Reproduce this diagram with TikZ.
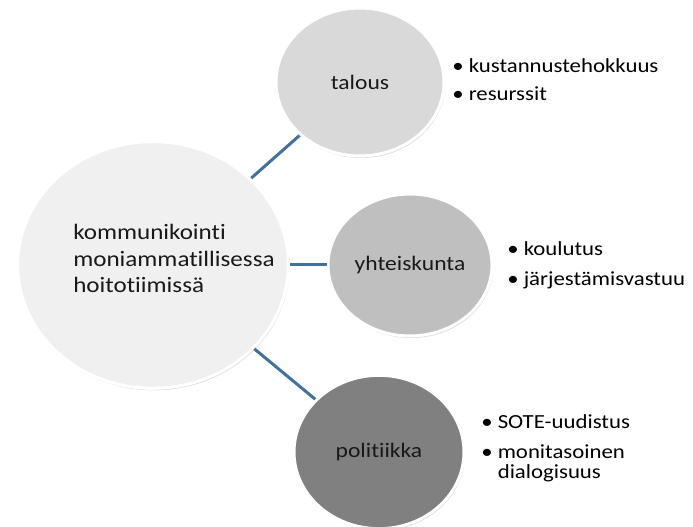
\documentclass[tikz,border=0pt]{standalone}
\usepackage{fontspec}
\setmainfont{Carlito}[FakeStretch=1.14, Ligatures=NoCommon]
\usetikzlibrary{shapes.geometric,shadows}

\definecolor{linkBlue}{RGB}{65,113,156}
\definecolor{textDark}{RGB}{25,25,25}

\tikzset{
	topicCircle/.style={ellipse, draw=white, line width=2.25pt, inner sep=0pt, text=textDark,
		font=\fontsize{15.5pt}{17pt}\selectfont,
		drop shadow={shadow xshift=0.8pt, shadow yshift=-1.5pt, opacity=0.3}},
	bulletText/.style={anchor=base west, align=left, inner sep=0pt, text=black,
		font=\fontsize{15pt}{15pt}\selectfont},
	linkLine/.style={draw=linkBlue, line width=2.25pt}
}

\begin{document}
\begin{tikzpicture}[x=0.75pt, y=-0.75pt]
	\useasboundingbox (0,0) rectangle (693,527);

	% central circle
	\node[topicCircle, fill=black!6, minimum width=203pt, minimum height=185pt](kommBox) at (153,265){};
	\node[anchor=base west, align=left, inner sep=0pt, text=textDark, font=\fontsize{16.5pt}{20pt}\selectfont](kommLabel) at (73,293){kommunikointi\\moniammatillisessa\\hoitotiimissä};

	% topic circles
	\node[topicCircle, fill=black!15, minimum width=126pt, minimum height=111pt](talousBox) at (360,82){talous};
	\node[topicCircle, fill=black!25, minimum width=123pt, minimum height=106.5pt](yhteisBox) at (410,265){yhteiskunta};
	\node[topicCircle, fill=black!50, minimum width=127.5pt, minimum height=115pt](politBox) at (379,452){politiikka};

	% links
	\draw[linkLine] (kommBox) -- (talousBox);
	\draw[linkLine] (kommBox) -- (yhteisBox);
	\draw[linkLine] (kommBox) -- (politBox);

	% bullet lists
	\node[bulletText](talousList) at (452,101){\textbullet\ kustannustehokkuus\\[6pt]\textbullet\ resurssit};
	\node[bulletText](yhteisList) at (507,286){\textbullet\ koulutus\\[7.5pt]\textbullet\ järjestämisvastuu};
	\node[bulletText](politList) at (481,478){\textbullet\ SOTE-uudistus\\[7.5pt]\textbullet\ monitasoinen\\\hphantom{\textbullet\ }dialogisuus};
\end{tikzpicture}
\end{document}
